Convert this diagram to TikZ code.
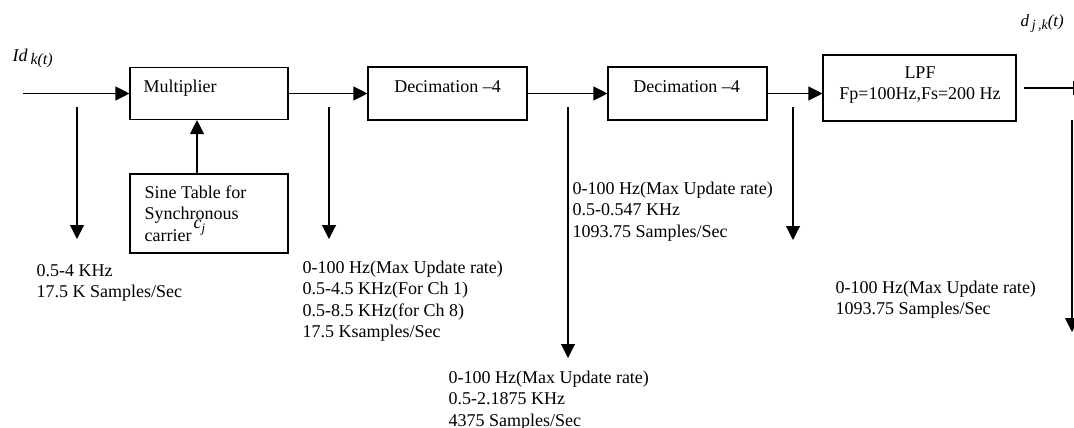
\documentclass[tikz,border=0pt]{standalone}
\usepackage{fontspec}
\setmainfont{Liberation Serif}
\usetikzlibrary{arrows.meta}

% stacked text lines, baseline on the first line
\newcommand\leftlines[1]{\begin{tabular}[t]{@{}l@{}}#1\end{tabular}}
\newcommand\midlines[1]{\begin{tabular}[t]{@{}c@{}}#1\end{tabular}}

\begin{document}
\begin{tikzpicture}[x=1pt,y=-1pt,
  line width=1.1pt,
  every node/.style={font=\fontsize{18}{21.6}\selectfont, inner sep=0pt},
  block/.style={draw, rectangle, line width=1.1pt},
  txt/.style={anchor=base west},
  ctxt/.style={anchor=base},
  arr/.style={-{Triangle[length=14pt,width=14pt]}}
]
\useasboundingbox (0,0) rectangle (1074,428);

% processing blocks
\node[block, minimum width=158pt, minimum height=52pt] (mult) at (209,93.5) {};
\node[block, minimum width=158pt, minimum height=79pt] (sine) at (209,213.5) {};
\node[block, minimum width=159pt, minimum height=53pt] (dec1) at (447.5,93.5) {};
\node[block, minimum width=159pt, minimum height=53pt] (dec2) at (687.5,93.5) {};
\node[block, minimum width=193pt, minimum height=66pt] (lpf) at (919.5,88) {};

% block captions
\node[txt] (multtxt) at (143,92.7) {Multiplier};
\node[txt] (sinetxt) at (144,198.3) {\leftlines{Sine Table for\\Synchronous\\carrier}};
\node[txt] (cj) at (193,228.5) {\itshape c\raisebox{-4pt}{\fontsize{13}{13}\selectfont j}};
\node[ctxt] (dec1txt) at (447.5,92.3) {Decimation –4};
\node[ctxt] (dec2txt) at (686.5,92.3) {Decimation –4};
\node[ctxt] (lpftxt) at (920,78.3) {\midlines{LPF\\Fp=100Hz,Fs=200 Hz}};

% input and output signals
\node[txt] (idk) at (12,62) {\itshape Id\,\raisebox{-3pt}{\fontsize{16}{16}\selectfont k(t)}};
\node[txt] (djk) at (1020,27) {\itshape\fontsize{17}{17}\selectfont d\,\raisebox{-3pt}{\fontsize{14}{14}\selectfont j\,,k}(t)};

\coordinate (in) at (23,93.5);
\coordinate (out) at (1087,88);
\coordinate (sx) at (197,0);

% signal chain
\draw[arr] (in) -- (in -| mult.west);
\draw[arr] (mult.east) -- (mult.east -| dec1.west);
\draw[arr] (dec1.east) -- (dec2.west);
\draw[arr] (dec2.east) -- (dec2.east -| lpf.west);
\draw[arr] ([xshift=7pt]lpf.east) -- (out);
\draw[arr] (sine.north -| sx) -- (mult.south -| sx);

% tap points
\coordinate (t1a) at (77,107);   \coordinate (t1b) at (77,239);
\coordinate (t2a) at (329,107);  \coordinate (t2b) at (329,239);
\coordinate (t3a) at (568,107);  \coordinate (t3b) at (568,358);
\coordinate (t4a) at (793,107);  \coordinate (t4b) at (793,240);
\coordinate (t5a) at (1072,120); \coordinate (t5b) at (1072,332);
\draw[arr] (t1a) -- (t1b);
\draw[arr] (t2a) -- (t2b);
\draw[arr] (t3a) -- (t3b);
\draw[arr] (t4a) -- (t4b);
\draw[arr] (t5a) -- (t5b);

% signal descriptions
\node[txt] (n1) at (36,276) {\leftlines{0.5-4 KHz\\17.5 K Samples/Sec}};
\node[txt] (n2) at (302,273) {\leftlines{0-100 Hz(Max Update rate)\\0.5-4.5 KHz(For Ch 1)\\0.5-8.5 KHz(for Ch 8)\\17.5 Ksamples/Sec}};
\node[txt] (n3) at (572,194) {\leftlines{0-100 Hz(Max Update rate)\\0.5-0.547 KHz\\1093.75 Samples/Sec}};
\node[txt] (n4) at (448,383) {\leftlines{0-100 Hz(Max Update rate)\\0.5-2.1875 KHz\\4375 Samples/Sec}};
\node[txt] (n5) at (835,293) {\leftlines{0-100 Hz(Max Update rate)\\1093.75 Samples/Sec}};
\end{tikzpicture}
\end{document}
